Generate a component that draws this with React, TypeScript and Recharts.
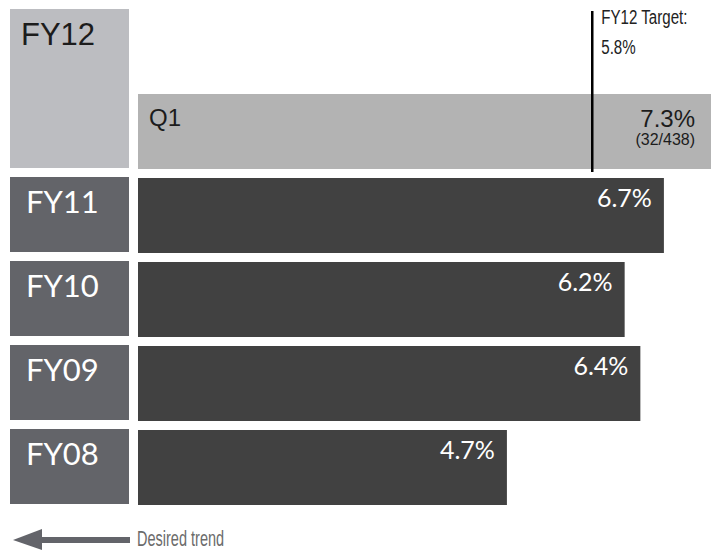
import { Bar, BarChart, Cell, Customized, LabelList, ReferenceLine, XAxis, YAxis } from "recharts";

// rows top to bottom; the first band is the upper half of the FY12 block
const rows = ["FY12", "Q1", "FY11", "FY10", "FY09", "FY08"];
const rates = [null, 7.3, 6.7, 6.2, 6.4, 4.7];
const counts = ["", "(32/438)", "", "", "", ""];
const targetRate = 5.8;
const targetLabel = ["FY12 Target:", "5.8%"];
const trendLabel = "Desired trend";

const data = rows.map((row, i) => ({ row, value: rates[i], count: counts[i] }));

const LABEL_FONT = "Lato, 'Open Sans', sans-serif";
const VALUE_FONT = "'Liberation Sans', Arial, sans-serif";
const NARROW_FONT = "'Liberation Sans Narrow', 'Liberation Sans', sans-serif";

// condensed text: no narrow face is installed, so squeeze horizontally
const NarrowText = ({ x, y, size, fill, squeeze, children }: any) => (
  <g transform={`translate(${x},${y}) scale(${squeeze},1)`}>
    <text x={0} y={0} fontSize={size} fontFamily={NARROW_FONT} fill={fill}>
      {children}
    </text>
  </g>
);

const RowTick = (props: any) => {
  const { y, payload } = props;
  const row = payload.value as string;
  if (row === "Q1") return <g />;
  const isCurrent = row === "FY12";
  const top = y - 38;
  return (
    <g>
      <rect x={10} y={top} width={119} height={isCurrent ? 159 : 75} fill={isCurrent ? "#bcbdc1" : "#636469"} />
      <text
        x={isCurrent ? 21 : 26}
        y={top + 36}
        fontSize={31}
        fontFamily={isCurrent ? VALUE_FONT : LABEL_FONT}
        fill={isCurrent ? "#1c1c1c" : "#ffffff"}
      >
        {row}
      </text>
    </g>
  );
};

const ValueLabel = (props: any) => {
  const { x, y, width, value } = props;
  const i = rows.indexOf(value);
  const rate = rates[i];
  if (rate == null) return null;
  const right = x + width;
  if (value === "Q1") {
    return (
      <g fontFamily={VALUE_FONT} fill="#1c1c1c">
        <text x={x + 11} y={y + 32} fontSize={24}>
          {value}
        </text>
        <text x={right - 16} y={y + 33} fontSize={24} textAnchor="end">
          {`${rate}%`}
        </text>
        <text x={right - 16} y={y + 51} fontSize={16} textAnchor="end">
          {counts[i]}
        </text>
      </g>
    );
  }
  return (
    <text x={right - 12} y={y + 29} fontSize={25} fontFamily={LABEL_FONT} fill="#ffffff" textAnchor="end">
      {`${rate}%`}
    </text>
  );
};

const TargetLine = (props: any) => {
  const { x1, y1, y2 } = props;
  const top = Math.min(y1, y2);
  return (
    <g>
      <line x1={x1 - 1} x2={x1 - 1} y1={top + 6} y2={top + 167} stroke="#000" strokeWidth={2.5} />
      <NarrowText x={x1 + 8} y={top + 19} size={21} fill="#222" squeeze={0.72}>
        {targetLabel[0]}
      </NarrowText>
      <NarrowText x={x1 + 8} y={top + 49} size={21} fill="#222" squeeze={0.72}>
        {targetLabel[1]}
      </NarrowText>
    </g>
  );
};

const TrendArrow = () => (
  <g>
    <rect x={40} y={537} width={90} height={6} fill="#63646a" />
    <polygon points="13,540 42,529 42,550" fill="#63646a" />
    <NarrowText x={137} y={546} size={22} fill="#6b6b6b" squeeze={0.66}>
      {trendLabel}
    </NarrowText>
  </g>
);

const App = () => {
  return (
    <div style={{ position: "absolute", left: 0, top: 0, width: 711, height: 553, background: "#fff" }}>
      <BarChart
        width={711}
        height={553}
        data={data}
        layout="vertical"
        margin={{ top: 5, right: 0, bottom: 44, left: 0 }}
      >
        <XAxis type="number" domain={[0, 7.3]} hide />
        <YAxis
          type="category"
          dataKey="row"
          width={138}
          axisLine={false}
          tickLine={false}
          tick={RowTick}
          interval={0}
        />
        <Bar dataKey="value" barSize={75} isAnimationActive={false}>
          {data.map((d, i) => (
            <Cell key={d.row} fill={i === 1 ? "#b3b3b3" : "#414141"} />
          ))}
          <LabelList dataKey="row" content={ValueLabel} />
        </Bar>
        <ReferenceLine x={targetRate} shape={TargetLine} />
        <Customized component={TrendArrow} />
      </BarChart>
    </div>
  );
};

export default App;
